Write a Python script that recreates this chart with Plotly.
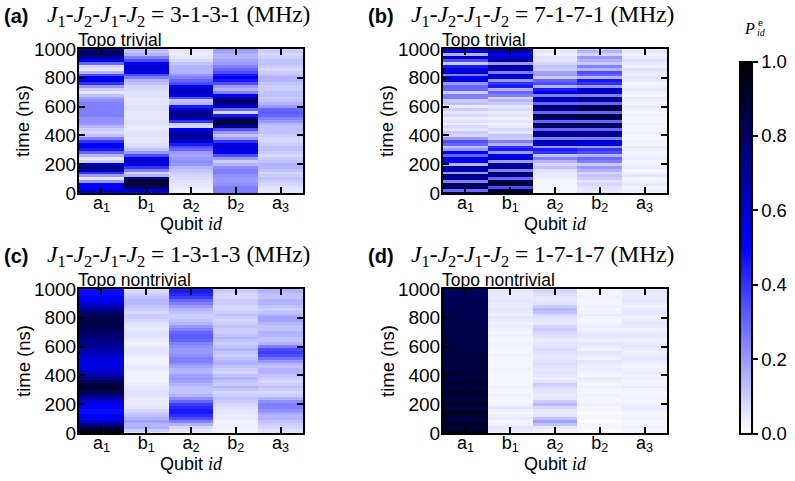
import plotly.graph_objects as go

# ---------------- data ----------------
time_ns = list(range(0, 1001, 20))
qubit_labels = ["a<sub>1</sub>", "b<sub>1</sub>", "a<sub>2</sub>", "b<sub>2</sub>", "a<sub>3</sub>"]
qubit_pos = [0, 1, 2, 3, 4]
time_ticks = [0, 200, 400, 600, 800, 1000]
cbar_ticks = [0.0, 0.2, 0.4, 0.6, 0.8, 1.0]
panel_letters = ["(a)", "(b)", "(c)", "(d)"]
couplings = ["3-1-3-1", "7-1-7-1", "1-3-1-3", "1-7-1-7"]
phases = ["Topo trivial", "Topo trivial", "Topo nontrivial", "Topo nontrivial"]

# panel (a): 3-1-3-1, columns a1,b1,a2,b2,a3 ; rows t = 0..1000 ns
pa_a1 = [0.55,0.6,0.5,0.5,0.2,0.05,0.2,0.4,0.65,0.75, 0.6,0.1,0.05,0.15,0.3,0.45,0.5,0.5,0.4,0.25,
         0.12,0.08,0.1,0.15,0.2,0.22,0.22,0.25,0.25,0.25, 0.25,0.25,0.22,0.18,0.12,0.05,0.1,0.2,0.4,0.55,
         0.5,0.35,0.15,0.05,0.08,0.3,0.5,0.7,0.8,0.8, 0.7]
pa_b1 = [0.5,0.6,0.8,0.88,0.9,0.75,0.15,0.08,0.25,0.4, 0.55,0.6,0.55,0.35,0.2,0.12,0.08,0.06,0.05,0.05,
         0.06,0.06,0.05,0.05,0.06,0.06,0.05,0.05,0.05,0.06, 0.06,0.05,0.05,0.05,0.06,0.06,0.07,0.08,0.12,0.15,
         0.25,0.35,0.5,0.6,0.62,0.5,0.35,0.25,0.15,0.12, 0.12]
pa_a2 = [0.03,0.03,0.04,0.05,0.06,0.07,0.08,0.1,0.12,0.15, 0.2,0.22,0.2,0.18,0.2,0.3,0.35,0.45,0.6,0.68,
         0.7,0.65,0.55,0.08,0.1,0.4,0.65,0.72,0.72,0.6, 0.45,0.15,0.12,0.35,0.55,0.62,0.62,0.5,0.35,0.3,
         0.25,0.2,0.15,0.15,0.15,0.12,0.08,0.05,0.04,0.05, 0.05]
pa_b2 = [0.25,0.25,0.25,0.22,0.2,0.2,0.22,0.25,0.25,0.22, 0.15,0.1,0.2,0.35,0.5,0.58,0.6,0.55,0.4,0.2,
         0.12,0.2,0.35,0.7,0.88,0.88,0.75,0.45,0.08,0.3, 0.6,0.75,0.78,0.72,0.5,0.25,0.15,0.2,0.35,0.45,
         0.5,0.45,0.35,0.3,0.25,0.2,0.18,0.15,0.15,0.18, 0.2]
pa_a3 = [0.05,0.05,0.06,0.08,0.1,0.12,0.1,0.08,0.12,0.15, 0.15,0.12,0.1,0.08,0.1,0.12,0.12,0.1,0.08,0.08,
         0.1,0.12,0.12,0.12,0.15,0.2,0.25,0.3,0.32,0.3, 0.2,0.15,0.12,0.1,0.12,0.12,0.1,0.1,0.12,0.15,
         0.15,0.12,0.1,0.08,0.1,0.12,0.12,0.1,0.08,0.1, 0.1]

# panel (b): 7-1-7-1
pb_a1 = [0.85,0.3,0.8,0.85,0.25,0.7,0.75,0.2,0.65,0.7, 0.15,0.5,0.55,0.3,0.5,0.2,0.12,0.3,0.35,0.2,
         0.08,0.1,0.05,0.08,0.03,0.06,0.04,0.08,0.05,0.1, 0.05,0.12,0.1,0.25,0.25,0.1,0.3,0.3,0.2,0.55,
         0.5,0.25,0.6,0.55,0.45,0.1,0.35,0.6,0.15,0.55, 0.6]
pb_b1 = [0.9,0.9,0.35,0.9,0.85,0.3,0.75,0.8,0.25,0.7, 0.7,0.2,0.6,0.55,0.2,0.45,0.4,0.15,0.25,0.1,
         0.12,0.05,0.08,0.04,0.03,0.05,0.03,0.05,0.04,0.08, 0.05,0.1,0.15,0.08,0.25,0.3,0.15,0.45,0.4,0.2,
         0.6,0.6,0.25,0.65,0.7,0.2,0.7,0.6,0.5,0.7, 0.75]
pb_a2 = [0.02,0.02,0.02,0.02,0.02,0.03,0.04,0.05,0.06,0.12, 0.08,0.15,0.25,0.12,0.4,0.45,0.2,0.6,0.65,0.25,
         0.7,0.75,0.3,0.8,0.85,0.3,0.8,0.85,0.3,0.75, 0.8,0.3,0.6,0.65,0.25,0.55,0.45,0.15,0.35,0.3,
         0.1,0.2,0.18,0.1,0.12,0.08,0.05,0.06,0.03,0.05, 0.03]
pb_b2 = [0.05,0.05,0.06,0.08,0.06,0.1,0.12,0.08,0.15,0.2, 0.1,0.25,0.3,0.15,0.35,0.4,0.2,0.55,0.6,0.25,
         0.7,0.75,0.3,0.8,0.85,0.3,0.85,0.9,0.3,0.85, 0.85,0.3,0.7,0.75,0.25,0.6,0.6,0.2,0.4,0.45,
         0.15,0.3,0.35,0.15,0.25,0.1,0.15,0.2,0.08,0.15, 0.1]
pb_a3 = [0.02,0.03,0.02,0.04,0.03,0.02,0.05,0.03,0.02,0.04, 0.03,0.02,0.04,0.03,0.02,0.03,0.04,0.02,0.03,0.02,
         0.02,0.03,0.02,0.02,0.03,0.02,0.02,0.03,0.02,0.03, 0.04,0.02,0.03,0.04,0.02,0.03,0.05,0.03,0.02,0.04,
         0.05,0.03,0.04,0.06,0.03,0.04,0.06,0.04,0.03,0.05, 0.04]

# panel (c): 1-3-1-3
pc_a1 = [1.0,0.95,0.85,0.72,0.6,0.52,0.5,0.48,0.48,0.5, 0.52,0.58,0.65,0.75,0.82,0.88,0.9,0.88,0.82,0.75,
         0.68,0.62,0.58,0.55,0.55,0.55,0.58,0.62,0.65,0.68, 0.7,0.72,0.74,0.76,0.78,0.8,0.82,0.85,0.86,0.86,
         0.85,0.82,0.78,0.72,0.65,0.58,0.52,0.5,0.48,0.48, 0.48]
pc_b1 = [0.05,0.1,0.15,0.15,0.18,0.15,0.12,0.1,0.08,0.05, 0.04,0.04,0.05,0.06,0.06,0.05,0.05,0.04,0.03,0.03,
         0.03,0.03,0.04,0.04,0.03,0.03,0.03,0.04,0.05,0.05, 0.04,0.03,0.04,0.05,0.06,0.06,0.05,0.05,0.06,0.08,
         0.1,0.1,0.08,0.1,0.12,0.14,0.14,0.12,0.1,0.08, 0.06]
pc_a2 = [0.03,0.05,0.08,0.15,0.25,0.35,0.42,0.45,0.45,0.42, 0.38,0.3,0.22,0.15,0.12,0.12,0.12,0.15,0.18,0.2,
         0.18,0.15,0.15,0.18,0.22,0.25,0.25,0.22,0.2,0.2, 0.22,0.25,0.3,0.32,0.32,0.3,0.25,0.2,0.15,0.12,
         0.1,0.1,0.12,0.15,0.2,0.25,0.3,0.38,0.42,0.45, 0.45]
pc_b2 = [0.02,0.02,0.03,0.03,0.03,0.04,0.04,0.05,0.05,0.06, 0.08,0.1,0.12,0.1,0.08,0.12,0.15,0.1,0.12,0.15,
         0.12,0.08,0.1,0.12,0.15,0.15,0.12,0.1,0.12,0.15, 0.12,0.1,0.12,0.15,0.12,0.1,0.1,0.12,0.1,0.08,
         0.1,0.12,0.1,0.08,0.08,0.1,0.1,0.08,0.08,0.1, 0.1]
pc_a3 = [0.05,0.06,0.08,0.1,0.12,0.15,0.15,0.18,0.22,0.25, 0.25,0.22,0.15,0.1,0.08,0.1,0.12,0.1,0.08,0.1,
         0.12,0.15,0.15,0.12,0.15,0.2,0.28,0.35,0.38,0.35, 0.25,0.15,0.12,0.12,0.15,0.15,0.12,0.12,0.15,0.18,
         0.18,0.15,0.12,0.1,0.12,0.15,0.15,0.12,0.12,0.15, 0.15]

# panel (d): 1-7-1-7
pd_a1 = [1.0,0.92,0.88,0.93,0.9,0.86,0.92,0.95,0.9,0.87, 0.92,0.9,0.86,0.9,0.93,0.89,0.87,0.9,0.9,0.86,
         0.88,0.9,0.87,0.86,0.89,0.88,0.86,0.87,0.88,0.86, 0.85,0.87,0.87,0.85,0.85,0.87,0.86,0.84,0.85,0.86,
         0.84,0.83,0.85,0.84,0.82,0.83,0.84,0.82,0.82,0.83, 0.82]
pd_b1 = [0.02,0.04,0.05,0.03,0.02,0.04,0.03,0.02,0.03,0.05, 0.03,0.02,0.02,0.03,0.02,0.02,0.03,0.02,0.02,0.02,
         0.02,0.02,0.03,0.02,0.02,0.02,0.02,0.03,0.02,0.02, 0.02,0.03,0.02,0.02,0.03,0.02,0.03,0.04,0.03,0.04,
         0.05,0.03,0.04,0.05,0.04,0.04,0.05,0.04,0.04,0.05, 0.04]
pd_a2 = [0.02,0.03,0.05,0.12,0.18,0.12,0.05,0.04,0.05,0.08, 0.14,0.1,0.05,0.04,0.05,0.06,0.08,0.1,0.06,0.04,
         0.05,0.06,0.05,0.06,0.07,0.06,0.05,0.05,0.06,0.07, 0.06,0.05,0.04,0.05,0.06,0.08,0.1,0.08,0.05,0.05,
         0.06,0.08,0.12,0.14,0.1,0.06,0.05,0.05,0.06,0.08, 0.08]
pd_b2 = [0.01,0.01,0.02,0.02,0.01,0.02,0.02,0.01,0.02,0.02, 0.03,0.02,0.02,0.03,0.02,0.02,0.03,0.02,0.03,0.04,
         0.02,0.03,0.04,0.03,0.04,0.05,0.03,0.04,0.05,0.03, 0.04,0.05,0.03,0.04,0.05,0.04,0.03,0.04,0.03,0.02,
         0.03,0.04,0.03,0.02,0.03,0.02,0.02,0.03,0.02,0.02, 0.02]
pd_a3 = [0.01,0.02,0.03,0.02,0.02,0.03,0.02,0.02,0.03,0.04, 0.03,0.02,0.03,0.02,0.02,0.03,0.04,0.03,0.02,0.03,
         0.03,0.04,0.03,0.02,0.03,0.04,0.05,0.04,0.03,0.04, 0.05,0.04,0.03,0.04,0.05,0.04,0.03,0.04,0.05,0.04,
         0.03,0.04,0.05,0.04,0.03,0.04,0.05,0.04,0.04,0.05, 0.04]

panel_columns = [
    [pa_a1, pa_b1, pa_a2, pa_b2, pa_a3],
    [pb_a1, pb_b1, pb_a2, pb_b2, pb_a3],
    [pc_a1, pc_b1, pc_a2, pc_b2, pc_a3],
    [pd_a1, pd_b1, pd_a2, pd_b2, pd_a3],
]

# ---------------- layout helpers ----------------
W, H = 795, 481
def px(x):
    return x / W
def py(y):
    return 1 - y / H

SANS = "Liberation Sans, Arial, sans-serif"
SERIF = "Liberation Serif, Times New Roman, serif"
# plot boxes in pixels: left, right, top, bottom
boxes = [(79, 303, 49, 193), (443, 667, 49, 193), (79, 303, 289, 433), (443, 667, 289, 433)]

fig = go.Figure()
annotations = []
layout_axes = {}

for i, cols in enumerate(panel_columns):
    sfx = "" if i == 0 else str(i + 1)
    z = [[col[k] for col in cols] for k in range(len(time_ns))]
    fig.add_trace(go.Heatmap(x=qubit_pos, y=time_ns, z=z, coloraxis="coloraxis",
                             xaxis="x" + sfx, yaxis="y" + sfx, zsmooth=False,
                             hoverinfo="skip"))
    l, r, t, b = boxes[i]
    common = dict(showline=True, linewidth=2, linecolor="black", mirror="ticks",
                  ticks="inside", ticklen=6, tickwidth=2, tickcolor="black",
                  showgrid=False, zeroline=False, fixedrange=True)
    layout_axes["xaxis" + sfx] = dict(domain=[px(l), px(r)], range=[-0.5, 4.5],
                                      tickvals=qubit_pos, ticktext=qubit_labels,
                                      anchor="y" + sfx, ticklabelstandoff=-8,
                                      tickfont=dict(family=SANS, size=18, color="black"), **common)
    layout_axes["yaxis" + sfx] = dict(domain=[py(b), py(t)], range=[0, 1000],
                                      tickvals=time_ticks, anchor="x" + sfx,
                                      ticklabelstandoff=-3,
                                      tickfont=dict(family=SANS, size=19, color="black"), **common)
    # panel letter
    annotations.append(dict(text="<b>" + panel_letters[i] + "</b>", x=px(l - 77), y=py(t - 33),
                            xref="paper", yref="paper", xanchor="left", yanchor="middle",
                            showarrow=False, font=dict(family=SANS, size=20, color="black")))
    # coupling title
    jtxt = ("<i>J</i><sub>1</sub>-<i>J</i><sub>2</sub>-<i>J</i><sub>1</sub>-<i>J</i><sub>2</sub>"
            " = " + couplings[i] + " (MHz)")
    annotations.append(dict(text=jtxt, x=px(l - 34), y=py(t - 33),
                            xref="paper", yref="paper", xanchor="left", yanchor="middle",
                            showarrow=False, font=dict(family=SERIF, size=23.5, color="black")))
    # phase label
    annotations.append(dict(text=phases[i], x=px(l - 3), y=py(t - 9),
                            xref="paper", yref="paper", xanchor="left", yanchor="middle",
                            showarrow=False, font=dict(family=SANS, size=17.5, color="black")))
    # y title
    annotations.append(dict(text="time (ns)", x=px(l - 56), y=py((t + b) / 2), textangle=-90,
                            xref="paper", yref="paper", xanchor="center", yanchor="middle",
                            showarrow=False, font=dict(family=SANS, size=18.5, color="black")))
    # x title
    annotations.append(dict(text="Qubit <span style='font-family:Liberation Serif'><i>id</i></span>",
                            x=px((l + r) / 2), y=py(b + 31),
                            xref="paper", yref="paper", xanchor="center", yanchor="middle",
                            showarrow=False, font=dict(family=SANS, size=18, color="black")))

# colorbar title P_id^e
annotations.append(dict(text="<i>P</i>", x=px(757), y=py(28), xref="paper", yref="paper",
                        xanchor="right", yanchor="middle", showarrow=False,
                        font=dict(family=SERIF, size=16, color="black")))
annotations.append(dict(text="<i>id</i>", x=px(755), y=py(33), xref="paper", yref="paper",
                        xanchor="left", yanchor="middle", showarrow=False,
                        font=dict(family=SERIF, size=10, color="black")))
annotations.append(dict(text="e", x=px(756), y=py(22), xref="paper", yref="paper",
                        xanchor="left", yanchor="middle", showarrow=False,
                        font=dict(family=SERIF, size=11, color="black")))

fig.update_layout(
    width=W, height=H,
    margin=dict(l=0, r=0, t=0, b=0, autoexpand=False),
    paper_bgcolor="white", plot_bgcolor="white",
    showlegend=False,
    annotations=annotations,
    coloraxis=dict(
        cmin=0, cmax=1,
        colorscale=[[0.0, "#ffffff"], [0.5, "#0000ff"], [1.0, "#000000"]],
        colorbar=dict(
            x=px(740), xanchor="left", thicknessmode="pixels", thickness=12,
            lenmode="pixels", len=372, y=py(247.5), yanchor="middle", ypad=0, xpad=0,
            outlinewidth=2, outlinecolor="black",
            ticks="outside", ticklen=5, tickwidth=2, tickcolor="black",
            tickvals=cbar_ticks, ticktext=["%.1f" % v for v in cbar_ticks],
            tickfont=dict(family=SANS, size=18.5, color="black"),
        ),
    ),
    **layout_axes,
)

fig.write_html("out.html", config={"displayModeBar": False},
               post_script="document.body.style.margin='0px';")
